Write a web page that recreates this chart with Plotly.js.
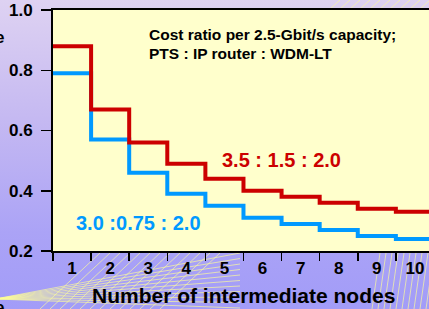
<!DOCTYPE html>
<html>
<head>
<meta charset="utf-8">
<script src="https://cdn.plot.ly/plotly-3.0.1.min.js"></script>
<style>
  html, body { margin: 0; padding: 0; width: 429px; height: 309px; overflow: hidden; }
  body { background: linear-gradient(to bottom, #DED2F2 0%, #C4B8F2 40%, #ABA3F6 75%, #A29CF8 100%); }
  #chart { width: 429px; height: 309px; }
</style>
</head>
<body>
<div id="chart"></div>
<script>
// ---- data ----
const nodes = [1, 2, 3, 4, 5, 6, 7, 8, 9, 10];
const costHigh = [0.88, 0.67, 0.56, 0.49, 0.44, 0.40, 0.38, 0.36, 0.34, 0.33]; // 3.5 : 1.5 : 2.0
const costLow  = [0.79, 0.57, 0.46, 0.39, 0.35, 0.31, 0.29, 0.27, 0.25, 0.24]; // 3.0 : 0.75 : 2.0
const yTicks = [0.2, 0.4, 0.6, 0.8, 1.0];
const labelHigh = "3.5 : 1.5 : 2.0";
const labelLow = "3.0 :0.75 : 2.0";
const noteLine1 = "Cost ratio per 2.5-Gbit/s capacity;";
const noteLine2 = "PTS : IP router : WDM-LT";
const xTitle = "Number of intermediate nodes";

// step edges: each node occupies [n-0.5, n+0.5]
function stepX(xs) { return xs.map(v => v - 0.5).concat([xs[xs.length - 1] + 0.5]); }
function stepY(ys) { return ys.concat([ys[ys.length - 1]]); }

const RED = '#CC0000', BLUE = '#0099FF';
const FONT = 'Liberation Sans, Arial, sans-serif';

const traces = [
  { x: stepX(nodes), y: stepY(costLow), mode: 'lines', line: { shape: 'hv', color: BLUE, width: 4 }, hoverinfo: 'skip' },
  { x: stepX(nodes), y: stepY(costHigh), mode: 'lines', line: { shape: 'hv', color: RED, width: 4 }, hoverinfo: 'skip' }
];

// pixel -> paper helpers (for layout decorations / annotation placement only)
const L = 53, T = 10, W = 376, H = 241;
const px = x => (x - L) / W;
const py = y => (T + H - y) / H;

// background decorative yellow lines (outside plot area)
const shapes = [];
const deco = 'rgba(255,255,150,0.65)';
for (let i = 0; i <= 10; i++) {
  shapes.push({ type: 'line', xref: 'paper', yref: 'paper', layer: 'below',
    x0: px(-5), y0: py(299), x1: px(240), y1: py(253 + i * 5.5), line: { color: deco, width: 1 } });
}
for (let i = 0; i <= 12; i++) {
  shapes.push({ type: 'line', xref: 'paper', yref: 'paper', layer: 'below',
    x0: px(40 + i * 10), y0: py(309), x1: px(100 + i * 10), y1: py(253), line: { color: deco, width: 1 } });
}
for (let i = 0; i <= 10; i++) {
  shapes.push({ type: 'line', xref: 'paper', yref: 'paper', layer: 'below',
    x0: px(372 + i * 6), y0: py(309), x1: px(380 + i * 6), y1: py(253), line: { color: deco, width: 1 } });
}
for (let i = 0; i <= 9; i++) {
  shapes.push({ type: 'line', xref: 'paper', yref: 'paper', layer: 'below',
    x0: px(330 + i * 10), y0: py(9), x1: px(340 + i * 10), y1: py(0), line: { color: deco, width: 1 } });
}

const layout = {
  width: 429, height: 309,
  margin: { l: L, r: 0, t: T, b: 309 - T - H, pad: 0 },
  paper_bgcolor: 'rgba(0,0,0,0)',
  plot_bgcolor: '#FFFFCC',
  showlegend: false,
  font: { family: FONT, color: '#000' },
  xaxis: {
    range: [0.5, 10.37], fixedrange: true,
    showgrid: false, zeroline: false,
    showline: true, linecolor: '#000', linewidth: 2, mirror: true,
    tickmode: 'array', tickvals: nodes, ticktext: nodes.map(String),
    ticks: 'outside', ticklen: 1, tickcolor: 'rgba(0,0,0,0)',
    tickfont: { family: FONT, size: 17, weight: 'bold', color: '#000' },
    minor: { tickmode: 'linear', tick0: 0.5, dtick: 1, ticks: 'outside', ticklen: 8, tickwidth: 1.5, tickcolor: '#000', showgrid: false }
  },
  yaxis: {
    range: [0.2, 1.0], fixedrange: true,
    showgrid: false, zeroline: false,
    showline: true, linecolor: '#000', linewidth: 2, mirror: false,
    tickmode: 'array', tickvals: yTicks, ticktext: yTicks.map(v => v.toFixed(1)),
    ticks: 'outside', ticklen: 10, tickwidth: 1.5, tickcolor: '#000',
    ticklabelstandoff: 5,
    tickfont: { family: FONT, size: 17, weight: 'bold', color: '#000' }
  },
  shapes: shapes,
  annotations: [
    { xref: 'paper', yref: 'paper', x: px(147), y: py(34), xanchor: 'left', yanchor: 'middle', showarrow: false,
      text: noteLine1, font: { family: FONT, size: 15.5, weight: 'bold', color: '#000' } },
    { xref: 'paper', yref: 'paper', x: px(147), y: py(53), xanchor: 'left', yanchor: 'middle', showarrow: false,
      text: noteLine2, font: { family: FONT, size: 15.5, weight: 'bold', color: '#000' } },
    { xref: 'paper', yref: 'paper', x: px(220), y: py(160), xanchor: 'left', yanchor: 'middle', showarrow: false,
      text: labelHigh, font: { family: FONT, size: 20, weight: 'bold', color: RED } },
    { xref: 'paper', yref: 'paper', x: px(74), y: py(223), xanchor: 'left', yanchor: 'middle', showarrow: false,
      text: labelLow, font: { family: FONT, size: 20, weight: 'bold', color: BLUE } },
    { xref: 'paper', yref: 'paper', x: px(243), y: py(295), xanchor: 'center', yanchor: 'middle', showarrow: false,
      text: xTitle, font: { family: FONT, size: 21, weight: 'bold', color: '#000' } },
    { xref: 'paper', yref: 'paper', x: px(6), y: py(37), xanchor: 'right', yanchor: 'middle', showarrow: false,
      text: 'e', font: { family: FONT, size: 17, weight: 'bold', color: '#000' } },
    { xref: 'paper', yref: 'paper', x: px(6), y: py(307), xanchor: 'right', yanchor: 'middle', showarrow: false,
      text: 'e', font: { family: FONT, size: 17, weight: 'bold', color: '#000' } }
  ]
};

Plotly.newPlot('chart', traces, layout, { displayModeBar: false, staticPlot: true });
</script>
</body>
</html>
